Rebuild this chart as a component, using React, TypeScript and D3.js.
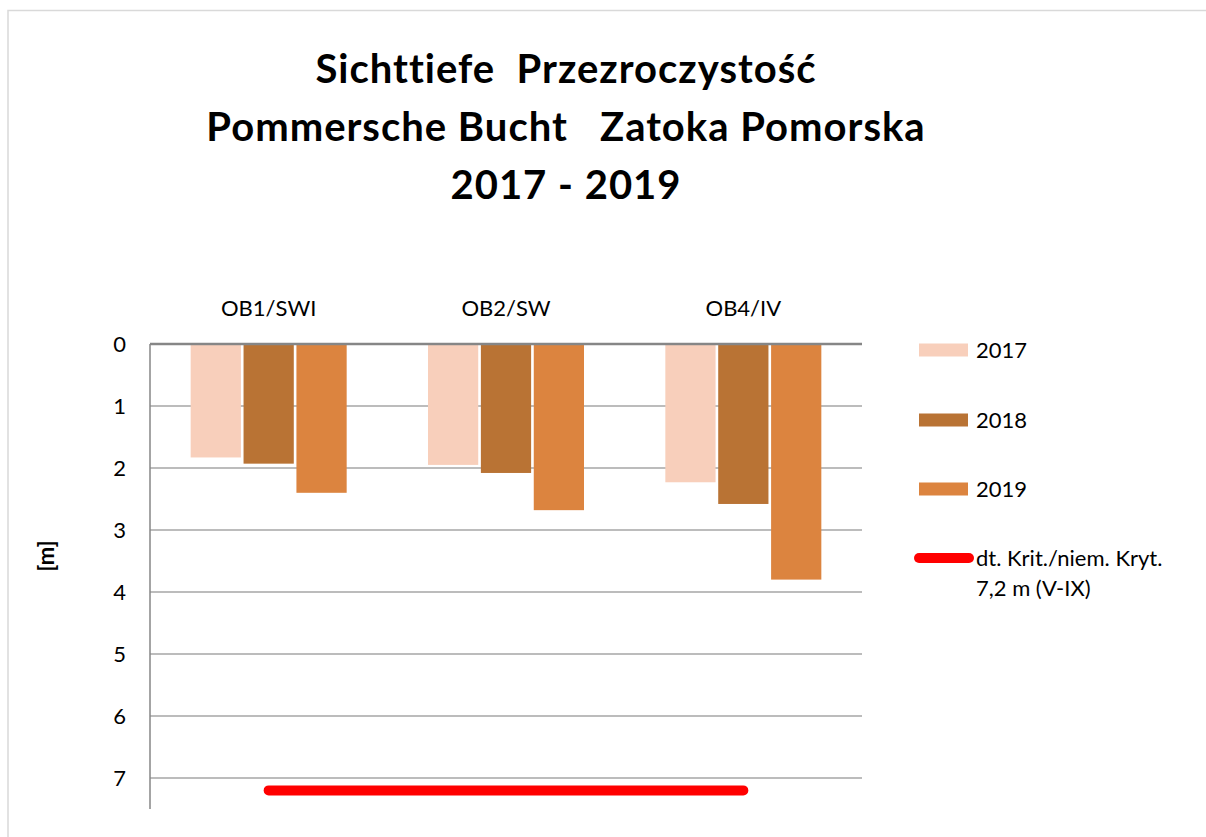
import * as d3 from 'd3'

// chart data
const stations = ['OB1/SWI', 'OB2/SW', 'OB4/IV']
const years = ['2017', '2018', '2019']
const depth2017 = [1.83, 1.95, 2.23]
const depth2018 = [1.93, 2.08, 2.58]
const depth2019 = [2.4, 2.68, 3.8]
const yTicks = [0, 1, 2, 3, 4, 5, 6, 7]
const criterion = 7.2
const titleLines = ['Sichttiefe  Przezroczystość', 'Pommersche Bucht   Zatoka Pomorska', '2017 - 2019']

const colors = ['#f8cfbb', '#b97334', '#dc843f']
const font = 'Lato, "Open Sans", sans-serif'

export default function App() {
  const W = 1206
  const H = 837
  const plot = { left: 150, right: 862, top: 344, bottom: 809 }

  const series = [depth2017, depth2018, depth2019]

  const x = d3.scaleBand()
    .domain(stations)
    .range([plot.left, plot.right])

  const groupW = 156
  const sub = d3.scaleBand()
    .domain(years)
    .range([0, groupW])
    .paddingInner(0.05)

  const groupOffset = (x.bandwidth() - groupW) / 2

  const y = d3.scaleLinear()
    .domain([0, 7.5])
    .range([plot.top, plot.bottom])

  const centers = stations.map(s => x(s) + x.bandwidth() / 2)
  const critLine = d3.line<number>()
    .x(d => d)
    .y(() => y(criterion))

  const legendRows = [
    { label: '2017', y: 350 },
    { label: '2018', y: 420 },
    { label: '2019', y: 489 },
  ]

  return (
    <svg width={W} height={H} style={{ position: 'absolute', left: 0, top: 0, background: '#fff' }}>
      <rect x={8} y={10.5} width={W} height={H} fill="#fff" stroke="#d9d9d9" strokeWidth={1.5} />

      {/* title */}
      <text textAnchor="middle" fontFamily={font} fontWeight="bold" fontSize={40} letterSpacing={1} fill="#000" style={{ whiteSpace: 'pre' }}>
        {titleLines.map((t, i) => (
          <tspan key={i} x={566} y={83 + i * 58}>{t}</tspan>
        ))}
      </text>

      {/* grid */}
      {yTicks.filter(t => t > 0).map(t => (
        <line key={t} x1={plot.left} x2={plot.right} y1={y(t)} y2={y(t)} stroke="#a6a6a6" strokeWidth={1.5} />
      ))}

      {/* bars */}
      {stations.map((s, i) => (
        <g key={s} transform={`translate(${x(s) + groupOffset},0)`}>
          {years.map((yr, j) => (
            <rect key={yr}
              x={sub(yr)}
              y={y(0)}
              width={sub.bandwidth()}
              height={y(series[j][i]) - y(0)}
              fill={colors[j]} />
          ))}
        </g>
      ))}

      {/* axes */}
      <line x1={plot.left} x2={plot.right} y1={y(0)} y2={y(0)} stroke="#868686" strokeWidth={2.5} />
      <line x1={plot.left} x2={plot.left} y1={y(0)} y2={plot.bottom} stroke="#868686" strokeWidth={1.5} />

      {yTicks.map(t => (
        <text key={t} x={126} y={y(t)} dy="0.35em" textAnchor="end" fontFamily={font} fontSize={22} fill="#000">{t}</text>
      ))}

      {stations.map(s => (
        <text key={s} x={x(s) + x.bandwidth() / 2} y={308} dy="0.35em" textAnchor="middle" fontFamily={font} fontSize={22} fill="#000">{s}</text>
      ))}

      <text transform="translate(46,556) rotate(-90)" textAnchor="middle" dy="0.35em" fontFamily={font} fontWeight="bold" fontSize={22} fill="#000">[m]</text>

      {/* criterion line */}
      <path d={critLine([centers[0], centers[2]]) || ''} stroke="#ff0000" strokeWidth={10} strokeLinecap="round" fill="none" />

      {/* legend */}
      {legendRows.map((r, j) => (
        <g key={r.label}>
          <rect x={919} y={r.y - 6.5} width={49} height={13} fill={colors[j]} />
          <text x={976} y={r.y} dy="0.35em" fontFamily={font} fontSize={22} fill="#000">{r.label}</text>
        </g>
      ))}
      <line x1={919} x2={969} y1={558} y2={558} stroke="#ff0000" strokeWidth={10} strokeLinecap="round" />
      <text x={976} y={558} dy="0.35em" fontFamily={font} fontSize={22} fill="#000">dt. Krit./niem. Kryt.</text>
      <text x={976} y={588} dy="0.35em" fontFamily={font} fontSize={22} fill="#000">7,2 m (V-IX)</text>
    </svg>
  )
}
